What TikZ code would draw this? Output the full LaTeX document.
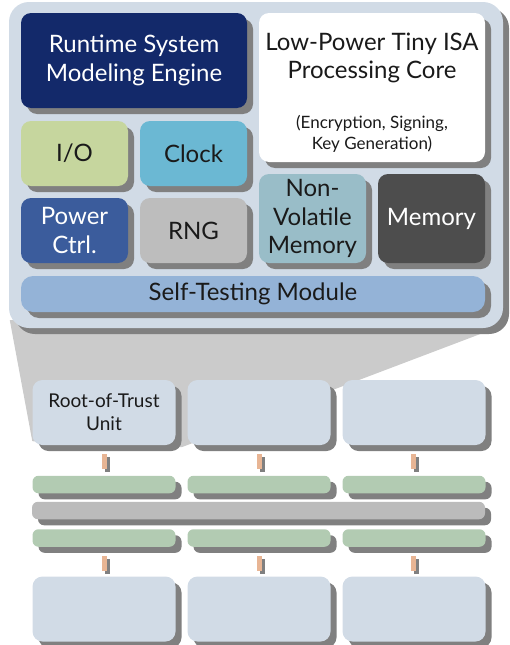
\documentclass[tikz,border=0pt]{standalone}
\usepackage{fontspec}
\setmainfont{Lato}
\usetikzlibrary{shadows,backgrounds,calc}
\definecolor{contbg}{HTML}{D1DBE6}
\definecolor{shadowgray}{HTML}{808080}
\definecolor{funnelgray}{HTML}{CBCBCB}
\definecolor{navy}{HTML}{13296A}
\definecolor{iogreen}{HTML}{C6D69E}
\definecolor{clockblue}{HTML}{6BB8D3}
\definecolor{powerblue}{HTML}{3B5C9C}
\definecolor{rnggray}{HTML}{BDBDBD}
\definecolor{nvmblue}{HTML}{99BDC8}
\definecolor{memgray}{HTML}{4D4D4D}
\definecolor{stmblue}{HTML}{94B3D7}
\definecolor{linkorange}{HTML}{E8B594}
\definecolor{bargreen}{HTML}{B2CBB2}
\definecolor{busgray}{HTML}{BBBBBB}
\definecolor{txtdark}{HTML}{1A1A1A}
\newcommand\mainlbl{\fontsize{24}{28.5}\selectfont}
\newcommand\sublbl{\fontsize{17}{21}\selectfont}
\newcommand\unitlbl{\fontsize{19}{23}\selectfont}
\begin{document}
\begin{tikzpicture}[x=1pt,y=-1pt,
  shd/.style={drop shadow={shadow xshift=6pt,shadow yshift=-6pt,fill=shadowgray,opacity=1}},
  shdsmall/.style={drop shadow={shadow xshift=3pt,shadow yshift=-3pt,fill=shadowgray,opacity=1}},
  blk/.style={shd,rounded corners=10pt,inner sep=0pt,align=center,text=txtdark,font=\mainlbl},
  smallblk/.style={blk,minimum width=107pt},
  unitbox/.style={blk,fill=contbg,minimum width=143pt,minimum height=65pt,font=\unitlbl},
  barbox/.style={shd,rounded corners=6pt,inner sep=0pt,minimum height=17.5pt},
  greenbar/.style={barbox,fill=bargreen,minimum width=143pt},
  linkbar/.style={shdsmall,fill=linkorange,inner sep=0pt,minimum width=5pt,minimum height=14.5pt}
]
\useasboundingbox (0,0) rectangle (509,645);

% container
\node[shd,fill=contbg,rounded corners=20pt,minimum width=494pt,minimum height=326pt] (cont) at (256,165) {};

% blocks
\node[blk,fill=navy,text=white,minimum width=226pt,minimum height=95pt] (rt) at (134,60.5) {Runtime System\\Modeling Engine};
\node[blk,fill=white,minimum width=226pt,minimum height=149pt] (core) at (372,87.5) {};
\node[font=\mainlbl,align=center,text=txtdark,inner sep=0pt] (coretitle) at (372,58) {Low-Power Tiny ISA\\Processing Core};
\node[font=\sublbl,align=center,text=txtdark,inner sep=0pt] (coresub) at (372,134) {(Encryption, Signing,\\Key Generation)};
\node[smallblk,fill=iogreen,minimum height=65pt] (io) at (74.5,153.5) {I/O};
\node[smallblk,fill=clockblue,minimum height=65pt] (clock) at (193.5,153.5) {Clock};
\node[smallblk,fill=powerblue,text=white,minimum height=65pt] (power) at (74.5,230.5) {Power\\Ctrl.};
\node[smallblk,fill=rnggray,minimum height=65pt] (rng) at (193.5,230.5) {RNG};
\node[smallblk,fill=nvmblue,minimum height=89pt] (nvm) at (312.5,218.5) {Non-\\Volatile\\Memory};
\node[smallblk,fill=memgray,text=white,minimum height=89pt] (mem) at (431.5,218.5) {Memory};
\node[blk,fill=stmblue,rounded corners=12pt,minimum width=464pt,minimum height=36pt] (stm) at (253,294) {Self-Testing Module};

% lower section
\node[unitbox] (rot) at (104,412.5) {Root-of-Trust\\Unit};
\node[unitbox] (u2) at (259,412.5) {};
\node[unitbox] (u3) at (414,412.5) {};

\node[linkbar] (l1) at (104.5,461.5) {};
\node[linkbar] (l2) at (259.5,461.5) {};
\node[linkbar] (l3) at (413.5,461.5) {};

\node[greenbar] (g1) at (104,484.5) {};
\node[greenbar] (g2) at (259,484.5) {};
\node[greenbar] (g3) at (414,484.5) {};

\node[barbox,fill=busgray,minimum width=453pt] (bus) at (258.5,510.5) {};

\node[greenbar] (h1) at (104,538) {};
\node[greenbar] (h2) at (259,538) {};
\node[greenbar] (h3) at (414,538) {};

\node[linkbar] (m1) at (104.5,563.5) {};
\node[linkbar] (m2) at (259.5,563.5) {};
\node[linkbar] (m3) at (413.5,563.5) {};

\node[unitbox] (b1) at (104,609) {};
\node[unitbox] (b2) at (259,609) {};
\node[unitbox] (b3) at (414,609) {};

% funnel
\begin{scope}[on background layer]
\fill[funnelgray] ($(cont.south west)+(1,-8)$) -- ($(rot.south west)+(0,-4)$) -- ($(rot.south east)+(6,2)$) -- ($(cont.south east)+(3,-4)$) -- cycle;
\end{scope}
\end{tikzpicture}
\end{document}
